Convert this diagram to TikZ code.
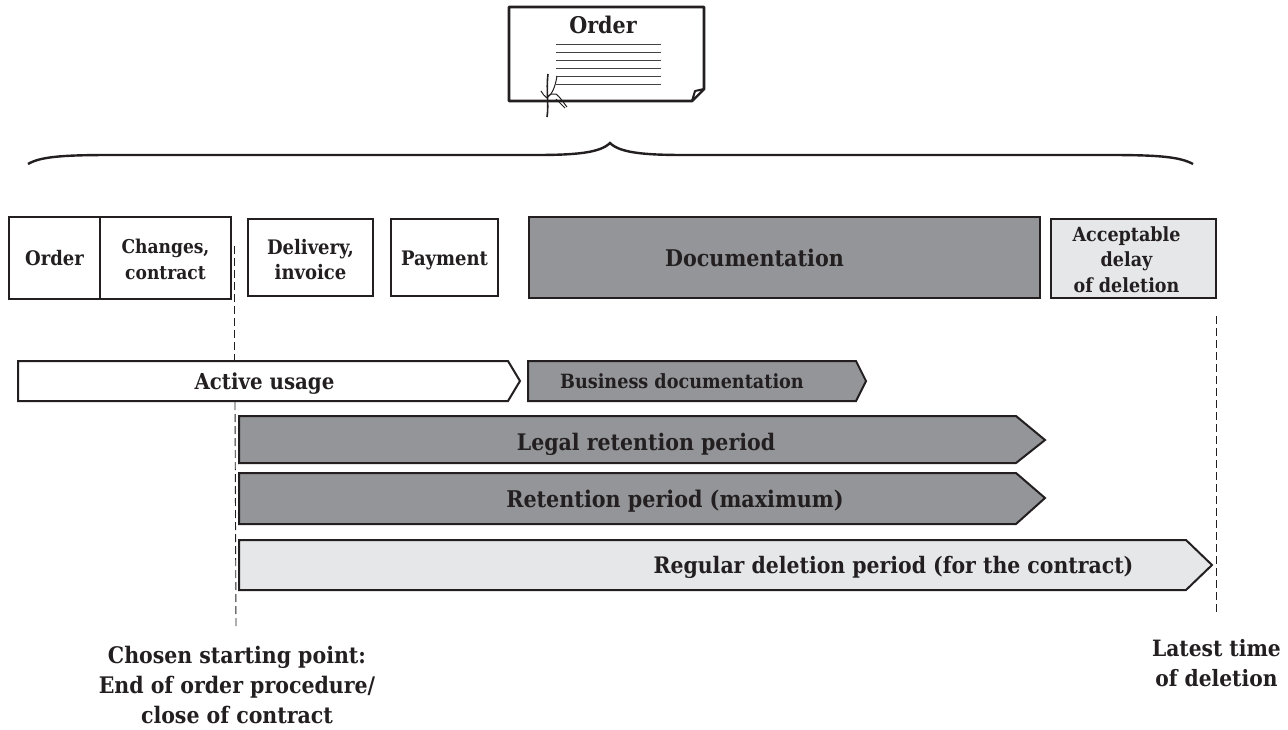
\documentclass[tikz,border=0pt]{standalone}
\usepackage{fontspec}
\setmainfont{DejaVu Serif}[BoldFont={DejaVu Serif Condensed Bold}]
\definecolor{ink}{HTML}{231F20}
\definecolor{dgray}{HTML}{939598}
\definecolor{lgray}{HTML}{E6E7E8}
\tikzset{x=1pt,y=-1pt,
  lbl/.style={font=\bfseries\fontsize{#1}{#1}\selectfont,text=ink,align=center,inner sep=0pt},
  lbl/.default=16,
  boxs/.style={draw=ink,line width=2pt,fill=white,line join=miter,outer sep=0pt},
  dashline/.style={draw=ink,line width=.9pt,dash pattern=on 8pt off 4pt}}
\begin{document}
\begin{tikzpicture}
\useasboundingbox (0,0) rectangle (1288,729);
% document
\draw[ink,line width=2.8pt,line join=round] (509,7) -- (704,7) -- (704,89) -- (692,101) -- (509,101) -- cycle;
\draw[ink,line width=2pt,line join=round,fill=white] (692,101) -- (695,91) -- (704,89) -- cycle;
\node[lbl=23] (doc) at (603,25) {Order};
\foreach \y in {44,52,60,68,76,84} \draw[ink!85,line width=1pt] (556,\y) -- (661,\y);
\draw[ink,line width=1.6pt] (548,74) .. controls (546,90) and (549,105) .. (547,117);
\draw[ink,line width=1pt] (557,76) .. controls (555,88) and (552,94) .. (547,98) .. controls (544,96) and (543,94) .. (541,91);
\draw[ink,line width=1pt] (547,97) .. controls (550,94) and (553,93) .. (556,94) .. controls (560,97) and (563,102) .. (567,107);
\draw[ink,line width=1pt] (556,99) -- (565,108);
% brace
\draw[ink,line width=2.4pt] (28,164) .. controls (40,157) and (60,155) .. (110,155) -- (535,155) .. controls (575,155) and (600,153) .. (610,143) .. controls (620,153) and (645,155) .. (685,155) -- (1110,155) .. controls (1160,155) and (1180,157) .. (1193,164);
% dashed lines
\coordinate (d1) at (234,246); \coordinate (d2) at (234,361);
\draw[dashline] (d1) -- (d2);
\coordinate (d3) at (235,402); \coordinate (d4) at (236,628);
\draw[dashline] (d3) -- (d4);
\coordinate (d5) at (1216,316); \coordinate (d6) at (1216,615);
\draw[dashline] (d5) -- (d6);
% top boxes
\node[boxs,minimum width=91pt,minimum height=82pt,anchor=north west,lbl=20] (o) at (9,217) {Order};
\node[boxs,minimum width=131pt,minimum height=82pt,anchor=north west,label={[lbl=19,yshift=-1pt]center:Changes,\\[7pt]contract}] (c) at (100,217) {};
\node[boxs,minimum width=125pt,minimum height=77pt,anchor=north west,label={[lbl=20,yshift=-2pt]center:Delivery,\\[5pt]invoice}] (dl) at (248,219) {};
\node[boxs,minimum width=107pt,minimum height=77pt,anchor=north west,label={[lbl=20,yshift=-3pt]center:Payment}] (p) at (391,219) {};
\node[boxs,fill=dgray,minimum width=511pt,minimum height=81pt,anchor=north west,lbl=23] (dc) at (529,217) {\hspace*{-60pt}Documentation};
\node[boxs,fill=lgray,minimum width=165pt,minimum height=79pt,anchor=north west,label={[lbl=19.5,xshift=-7pt,yshift=-1pt]center:Acceptable\\[6pt]delay\\[6pt]of deletion}] (ad) at (1051,219) {};
% arrows
\draw[boxs] (18,361) -- (508,361) -- (520,381) -- (508,401) -- (18,401) -- cycle;
\node[lbl=22] (au) at (264.5,384) {Active usage};
\draw[boxs,fill=dgray] (528,361) -- (856,361) -- (866,381) -- (856,401) -- (528,401) -- cycle;
\node[lbl=19.6] (bd) at (682,381) {Business documentation};
\draw[boxs,fill=dgray] (239,416) -- (1016,416) -- (1045,440) -- (1016,463) -- (239,463) -- cycle;
\node[lbl=22.8] (lr) at (646,444) {Legal retention period};
\draw[boxs,fill=dgray] (239,473) -- (1016,473) -- (1045,498) -- (1016,524) -- (239,524) -- cycle;
\node[lbl=23] (rp) at (675,501) {Retention period (maximum)};
\draw[boxs,fill=lgray] (239,540) -- (1186,540) -- (1212,565) -- (1186,590) -- (239,590) -- cycle;
\node[lbl=22.7] (rd) at (893.5,567) {Regular deletion period (for the contract)};
% captions
\node[lbl=22.8] (s) at (237,685) {Chosen starting point:\\[7pt]End of order procedure/\\[7pt]close of contract};
\node[lbl=22.5,anchor=north east] (l) at (1281,639) {Latest time\\[7.5pt]of deletion};
\end{tikzpicture}
\end{document}
